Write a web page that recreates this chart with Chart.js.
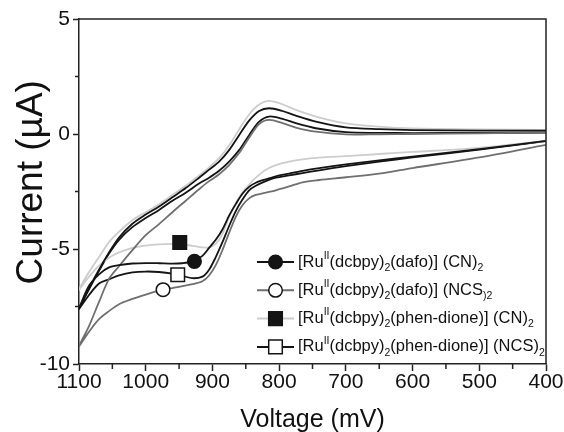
<!DOCTYPE html>
<html>
<head>
<meta charset="utf-8">
<script src="https://cdn.jsdelivr.net/npm/chart.js@4.4.1/dist/chart.umd.min.js"></script>
<style>
  html, body { margin: 0; padding: 0; background: #fff; }
  #wrap { width: 564px; height: 432px; }
</style>
</head>
<body>
<div id="wrap"><canvas id="cv" width="564" height="432"></canvas></div>
<script>
// potential grids (mV): forward sweep 400 -> 1100, return sweep 1100 -> 400
const vUp = [400, 500, 600, 650, 700, 745, 775, 795, 815, 830, 845, 860, 875, 890, 905, 920, 940, 960, 980, 1000, 1020, 1040, 1055, 1070, 1085, 1100];
const vDown = [1085, 1070, 1055, 1040, 1020, 1000, 980, 960, 945, 930, 915, 905, 895, 885, 875, 865, 855, 845, 835, 820, 805, 785, 765, 740, 700, 650, 600, 500, 400];

// currents (uA)
const dafoCnUp = [0.15, 0.15, 0.17, 0.21, 0.29, 0.54, 0.8, 1.0, 1.12, 1.0, 0.58, -0.05, -0.7, -1.2, -1.55, -1.9, -2.35, -2.75, -3.15, -3.5, -3.9, -4.5, -5.15, -5.9, -6.7, -7.6];
const dafoCnDown = [-6.6, -6.1, -5.8, -5.7, -5.63, -5.61, -5.62, -5.64, -5.62, -5.54, -5.3, -4.95, -4.6, -4.15, -3.55, -3.05, -2.6, -2.3, -2.12, -1.97, -1.84, -1.72, -1.6, -1.48, -1.32, -1.15, -0.98, -0.66, -0.3];

const dafoNcsUp = [0.07, 0.03, 0.0, -0.01, -0.02, 0.1, 0.28, 0.47, 0.61, 0.43, -0.16, -0.83, -1.35, -1.75, -2.05, -2.4, -2.9, -3.4, -3.92, -4.4, -5.05, -5.75, -6.3, -7.3, -8.35, -9.23];
const dafoNcsDown = [-8.6, -8.05, -7.7, -7.4, -7.17, -6.98, -6.81, -6.7, -6.61, -6.53, -6.4, -6.15, -5.7, -5.05, -4.3, -3.6, -3.1, -2.8, -2.65, -2.55, -2.45, -2.28, -2.1, -2.0, -1.88, -1.72, -1.48, -1.02, -0.47];

const phenCnUp = [0.18, 0.2, 0.24, 0.32, 0.46, 0.76, 1.05, 1.29, 1.44, 1.28, 0.85, 0.2, -0.5, -1.05, -1.45, -1.8, -2.25, -2.65, -3.05, -3.4, -3.75, -4.25, -4.7, -5.35, -6.0, -6.77];
const phenCnDown = [-6.2, -5.72, -5.38, -5.15, -4.95, -4.85, -4.8, -4.78, -4.8, -4.86, -4.93, -4.93, -4.78, -4.35, -3.6, -3.0, -2.55, -2.2, -1.9, -1.55, -1.35, -1.2, -1.1, -1.03, -0.96, -0.87, -0.78, -0.6, -0.3];

const phenNcsUp = [0.06, 0.05, 0.04, 0.05, 0.08, 0.25, 0.47, 0.66, 0.76, 0.54, -0.05, -0.7, -1.2, -1.6, -1.9, -2.15, -2.55, -2.9, -3.3, -3.65, -4.05, -4.6, -5.2, -5.95, -6.75, -7.6];
const phenNcsDown = [-7.0, -6.5, -6.32, -6.15, -6.02, -5.98, -6.0, -6.07, -6.17, -6.27, -6.2, -5.9, -5.35, -4.7, -4.0, -3.35, -2.85, -2.45, -2.25, -2.05, -1.9, -1.8, -1.7, -1.58, -1.4, -1.2, -1.02, -0.68, -0.31];

// one marker sits on each curve
const markV = [927, 974, 949, 952];
const markI = [-5.54, -6.77, -4.72, -6.12];

const legendText = [
  '[Ru^{II}(dcbpy)_{2}(dafo)] (CN)_{2}',
  '[Ru^{II}(dcbpy)_{2}(dafo)] (NCS_{)2}',
  '[Ru^{II}(dcbpy)_{2}(phen-dione)] (CN)_{2}',
  '[Ru^{II}(dcbpy)_{2}(phen-dione)] (NCS)_{2}'
];

const xMinorTicks = [1050, 950, 850, 750, 650, 550, 450];
const yMinorTicks = [2.5, -2.5, -7.5];

const FONT = '"Liberation Sans", Arial, Helvetica, sans-serif';
const BLACK = '#141414', DARK = '#6f6f6f', LIGHT = '#cdcdcd';

const series = [
  { up: dafoCnUp, down: dafoCnDown, color: BLACK, shape: 'circle', fill: BLACK },
  { up: dafoNcsUp, down: dafoNcsDown, color: DARK, shape: 'circle', fill: '#fff' },
  { up: phenCnUp, down: phenCnDown, color: LIGHT, shape: 'rect', fill: BLACK },
  { up: phenNcsUp, down: phenNcsDown, color: BLACK, shape: 'rect', fill: '#fff' }
];

function loop(up, down) {
  const pts = vUp.map((v, i) => ({ x: v, y: up[i] }));
  return pts.concat(vDown.map((v, i) => ({ x: v, y: down[i] })));
}

const datasets = [];
series.forEach((s, i) => {
  datasets.push({
    data: loop(s.up, s.down),
    showLine: true,
    borderColor: s.color,
    borderWidth: 1.8,
    pointRadius: 0,
    tension: 0.3,
    order: 1
  });
  datasets.push({
    data: [{ x: markV[i], y: markI[i] }],
    pointStyle: s.shape,
    pointRadius: s.shape === 'rect' ? 9.6 : 6.8,
    pointBackgroundColor: s.fill,
    pointBorderColor: BLACK,
    pointBorderWidth: 1.5,
    showLine: false,
    order: 0
  });
});

function parts(str) {
  const out = [];
  const re = /([\^_])\{([^}]*)\}|([^\^_]+)/g;
  let m;
  while ((m = re.exec(str))) {
    if (m[3]) out.push([m[3], 0]);
    else out.push([m[2], m[1] === '^' ? 1 : -1]);
  }
  return out;
}

function marker(ctx, s, x, y) {
  ctx.fillStyle = s.fill;
  ctx.strokeStyle = BLACK;
  ctx.lineWidth = 1.5;
  ctx.beginPath();
  if (s.shape === 'circle') ctx.arc(x, y, 6.8, 0, Math.PI * 2);
  else ctx.rect(x - 6.8, y - 6.8, 13.6, 13.6);
  ctx.fill();
  ctx.stroke();
}

const framePlugin = {
  id: 'frame',
  afterDraw(chart) {
    const { ctx, chartArea: a, scales } = chart;
    ctx.save();
    ctx.strokeStyle = '#222';
    ctx.lineWidth = 1.5;
    ctx.beginPath();
    ctx.moveTo(a.left, a.top);
    ctx.lineTo(a.right, a.top);
    ctx.lineTo(a.right, a.bottom);
    for (const v of xMinorTicks) {
      const px = scales.x.getPixelForValue(v);
      ctx.moveTo(px, a.bottom);
      ctx.lineTo(px, a.bottom + 5);
    }
    for (const v of yMinorTicks) {
      const py = scales.y.getPixelForValue(v);
      ctx.moveTo(a.left, py);
      ctx.lineTo(a.left - 4, py);
    }
    ctx.stroke();

    // legend
    ctx.textBaseline = 'middle';
    ctx.textAlign = 'left';
    series.forEach((s, i) => {
      const y = 262 + i * 28.3;
      ctx.strokeStyle = s.color;
      ctx.lineWidth = 2;
      ctx.beginPath();
      ctx.moveTo(257, y);
      ctx.lineTo(294, y);
      ctx.stroke();
      marker(ctx, s, 275.5, y);
      let x = 298;
      ctx.fillStyle = '#111';
      for (const [t, k] of parts(legendText[i])) {
        ctx.font = (k ? '10.5px ' : '16.5px ') + FONT;
        ctx.fillText(t, x, y + (k === 1 ? -6 : k === -1 ? 6 : 0));
        x += ctx.measureText(t).width;
      }
    });
    ctx.restore();
  }
};

new Chart(document.getElementById('cv'), {
  type: 'scatter',
  data: { datasets },
  options: {
    responsive: false,
    animation: false,
    devicePixelRatio: 1,
    layout: { padding: { top: 19, right: 18, left: 0, bottom: 0 } },
    plugins: { legend: { display: false }, tooltip: { enabled: false } },
    scales: {
      x: {
        type: 'linear',
        reverse: true,
        min: 400,
        max: 1100,
        afterFit: (s) => { s.height = 68; },
        ticks: { stepSize: 100, padding: -1, color: '#111', font: { family: FONT, size: 21 }, callback: (v) => String(v) },
        grid: { drawOnChartArea: false, tickLength: 7, tickColor: '#222', tickWidth: 1.5 },
        border: { color: '#222', width: 1.5 },
        title: { display: true, text: 'Voltage (mV)', color: '#111', font: { family: FONT, size: 25 }, padding: { top: 0, bottom: -3 } }
      },
      y: {
        type: 'linear',
        min: -10,
        max: 5,
        afterFit: (s) => { s.width = 79; },
        ticks: { stepSize: 5, padding: 3, color: '#111', font: { family: FONT, size: 21 }, callback: (v) => String(v) },
        grid: { drawOnChartArea: false, tickLength: 6, tickColor: '#222', tickWidth: 1.5 },
        border: { color: '#222', width: 1.5 },
        title: { display: true, text: '\u2002Current (µA)', color: '#111', font: { family: FONT, size: 37 }, padding: { top: 10, bottom: 0 } }
      }
    }
  },
  plugins: [framePlugin]
});
</script>
</body>
</html>
